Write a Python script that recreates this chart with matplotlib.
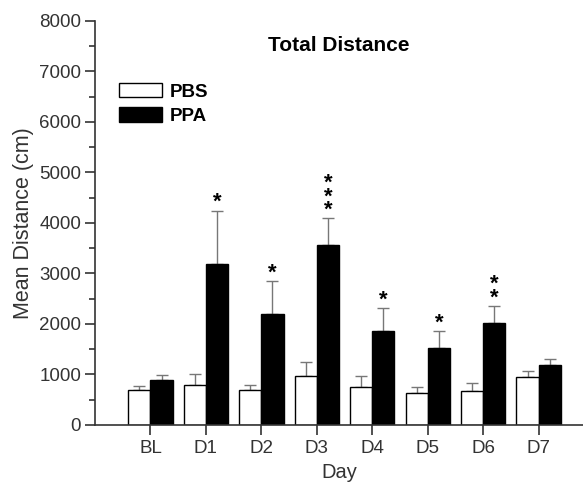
import matplotlib
matplotlib.use("Agg")
import matplotlib.pyplot as plt
import numpy as np
from matplotlib.ticker import MultipleLocator

plt.rcParams['font.family'] = ['Liberation Sans', 'DejaVu Sans']

days = ["BL", "D1", "D2", "D3", "D4", "D5", "D6", "D7"]
pbs_mean = [690, 800, 690, 970, 750, 640, 680, 950]
pbs_err = [80, 205, 110, 270, 215, 120, 160, 120]
ppa_mean = [880, 3180, 2190, 3565, 1850, 1520, 2015, 1190]
ppa_err = [100, 1065, 650, 530, 465, 330, 345, 120]
stars = ["", "*", "*", "***", "*", "*", "**", ""]

fig = plt.figure(figsize=(5.83, 4.84), dpi=100)
ax = fig.add_axes([0.163, 0.122, 0.837, 0.835])

x = np.arange(len(days))
w = 0.4
ax.bar(x - w/2, pbs_mean, w, color="white", edgecolor="black", linewidth=1.0,
       label="PBS", zorder=2)
ax.bar(x + w/2, ppa_mean, w, color="black", edgecolor="black", linewidth=1.0,
       label="PPA", zorder=2)
ax.errorbar(x - w/2, pbs_mean, yerr=[np.zeros(len(x)), pbs_err], fmt="none",
            ecolor="#777777", elinewidth=1.0, capsize=4, capthick=1.0, zorder=1)
ax.errorbar(x + w/2, ppa_mean, yerr=[np.zeros(len(x)), ppa_err], fmt="none",
            ecolor="#777777", elinewidth=1.0, capsize=4, capthick=1.0, zorder=1)

for i, s in enumerate(stars):
    if not s:
        continue
    top = ppa_mean[i] + ppa_err[i]
    ax.text(x[i] + w/2, top - 50, "\n".join(s), ha="center", va="bottom",
            fontsize=16, fontweight="bold", color="black", linespacing=0.52)

ax.set_xlim(-1.0, 7.8)
ax.set_ylim(0, 8000)
ax.set_xticks(x)
ax.set_xticklabels(days)
ax.yaxis.set_major_locator(MultipleLocator(1000))
ax.yaxis.set_minor_locator(MultipleLocator(500))
for sp in ["top", "right"]:
    ax.spines[sp].set_visible(False)
for sp in ["left", "bottom"]:
    ax.spines[sp].set_linewidth(1.2)
    ax.spines[sp].set_color("#333333")
ax.tick_params(axis="both", which="major", direction="out", length=7, width=1.2,
               labelsize=13.5, labelcolor="#333333", color="#333333", pad=3)
ax.tick_params(axis="x", which="major", pad=4)
ax.tick_params(axis="y", which="minor", direction="out", length=4.5, width=1.2,
               color="#333333")
ax.set_ylabel("Mean Distance (cm)", fontsize=15.5, color="#333333", labelpad=4)
ax.set_xlabel("Day", fontsize=14.5, color="#333333", labelpad=4)

ax.text(0.5, 0.94, "Total Distance", transform=ax.transAxes, ha="center",
        va="center", fontsize=15, fontweight="bold")

leg = ax.legend(loc="upper left", bbox_to_anchor=(0.015, 0.889), frameon=False,
                prop={"weight": "bold", "size": 13.5}, handlelength=2.3,
                handleheight=0.85, handletextpad=0.4, labelspacing=0.35)

fig.savefig("out.png", dpi=100)
